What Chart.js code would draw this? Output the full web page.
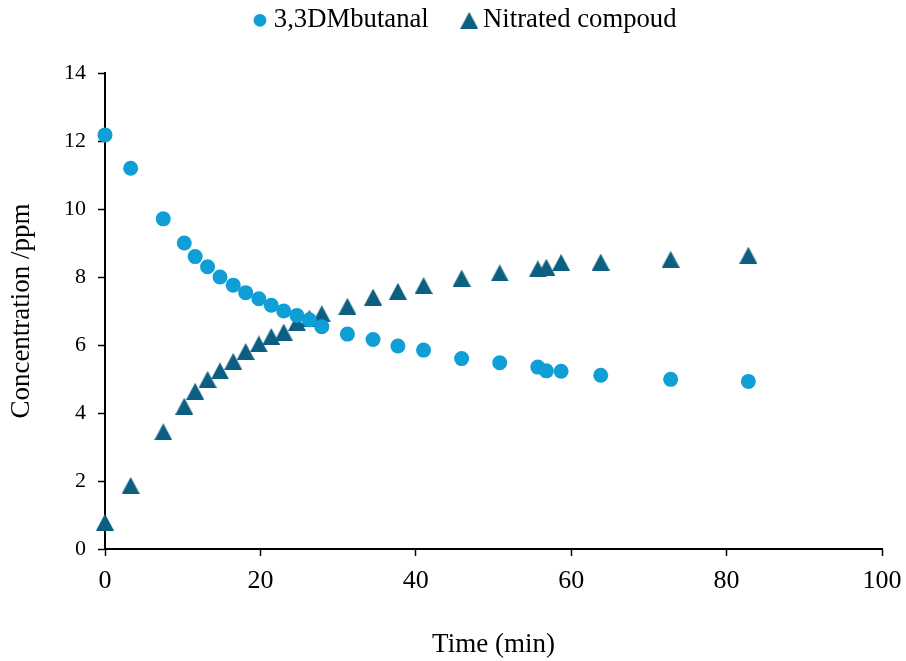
<!DOCTYPE html>
<html>
<head>
<meta charset="utf-8">
<title>Concentration vs time</title>
<style>
  html, body { margin: 0; padding: 0; background: #ffffff; }
  #wrap { width: 906px; height: 661px; }
</style>
<script src="https://cdn.jsdelivr.net/npm/chart.js@4/dist/chart.umd.min.js"></script>
</head>
<body>
<div id="wrap"><canvas id="chart" width="906" height="661"></canvas></div>
<script>
// Sampling times (min), shared by both series
const timeMin = [0, 3.3, 7.5, 10.2, 11.6, 13.2, 14.8, 16.5, 18.1, 19.8, 21.4, 23.0, 24.7, 26.3,
  27.9, 31.2, 34.5, 37.7, 41.0, 45.9, 50.8, 55.7, 56.8, 58.7, 63.8, 72.8, 82.8];

// 3,3-dimethylbutanal concentration (ppm)
const butanalPpm = [12.18, 11.2, 9.71, 9.0, 8.6, 8.3, 8.0, 7.76, 7.54, 7.36, 7.17, 7.0, 6.87, 6.74,
  6.54, 6.32, 6.16, 5.97, 5.85, 5.6, 5.48, 5.35, 5.24, 5.23, 5.11, 4.99, 4.93];

// Nitrated product concentration (ppm)
const nitratedPpm = [0.79, 1.87, 3.45, 4.2, 4.64, 4.99, 5.24, 5.52, 5.81, 6.03, 6.25, 6.38, 6.66, 6.79,
  6.92, 7.14, 7.41, 7.58, 7.75, 7.97, 8.12, 8.24, 8.29, 8.43, 8.44, 8.52, 8.64];

const seriesNames = ['3,3DMbutanal', 'Nitrated compoud'];
const xTickValues = [0, 20, 40, 60, 80, 100];
const yTickValues = [0, 2, 4, 6, 8, 10, 12, 14];

const SERIF = '"Liberation Serif", "Times New Roman", serif';
const BLUE = '#0F9ED5';
const TEAL = '#0D5F81';

// Solid triangle marker, centred on its bounding box
function makeTriangle(w, h, color) {
  const c = document.createElement('canvas');
  c.width = w; c.height = h;
  const g = c.getContext('2d');
  g.fillStyle = color;
  g.beginPath();
  g.moveTo(w / 2, 0);
  g.lineTo(w, h);
  g.lineTo(0, h);
  g.closePath();
  g.fill();
  return c;
}
const triangle = makeTriangle(18, 17, TEAL);

const toPoints = (xs, ys) => xs.map((x, i) => ({ x: x, y: ys[i] }));

// Fixed legend band: known height, and a horizontal span that starts at x = 54
const legendBand = {
  id: 'legendBand',
  afterInit(chart) {
    const lg = chart.legend;
    if (!lg) return;
    const fit = lg.fit;
    lg.fit = function () {
      fit.call(this);
      this.height = 106;
    };
  },
  afterLayout(chart) {
    const lg = chart.legend;
    if (!lg) return;
    lg.left = 54;
    lg.width = lg.right - lg.left;
  }
};

new Chart(document.getElementById('chart'), {
  type: 'scatter',
  data: {
    datasets: [
      {
        label: seriesNames[0],
        data: toPoints(timeMin, butanalPpm),
        pointStyle: 'circle',
        pointRadius: 7.5,
        pointHoverRadius: 7.5,
        backgroundColor: BLUE,
        borderColor: BLUE,
        borderWidth: 0,
        clip: false
      },
      {
        label: seriesNames[1],
        data: toPoints(timeMin, nitratedPpm),
        pointStyle: triangle,
        pointRadius: 9,
        pointHoverRadius: 9,
        backgroundColor: TEAL,
        borderColor: TEAL,
        borderWidth: 0,
        clip: false
      }
    ]
  },
  options: {
    responsive: false,
    devicePixelRatio: 1,
    animation: false,
    layout: { padding: { top: -33, right: 24, bottom: 0, left: 0 } },
    plugins: {
      tooltip: { enabled: false },
      legend: {
        position: 'top',
        align: 'center',
        labels: {
          usePointStyle: true,
          boxWidth: 1,
          boxHeight: 9,
          padding: 40,
          color: '#000000',
          font: { family: SERIF, size: 26.7 }
        }
      }
    },
    scales: {
      x: {
        type: 'linear',
        min: 0,
        max: 100,
        afterBuildTicks(scale) { scale.ticks = xTickValues.map(v => ({ value: v })); },
        afterFit(scale) {
          scale.height = 112;
          scale.paddingLeft = 0;
          scale.paddingRight = 0;
        },
        ticks: { color: '#000000', padding: 10, maxRotation: 0, font: { family: SERIF, size: 26 } },
        grid: { drawOnChartArea: false, drawTicks: true, tickLength: 7, tickWidth: 1.5, tickColor: '#000000' },
        border: { display: true, color: '#000000', width: 2 },
        title: {
          display: true,
          text: 'Time (min)',
          color: '#000000',
          font: { family: SERIF, size: 27 },
          padding: { top: 0, bottom: 0 }
        }
      },
      y: {
        type: 'linear',
        min: 0,
        max: 14,
        afterBuildTicks(scale) { scale.ticks = yTickValues.map(v => ({ value: v })); },
        afterFit(scale) { scale.width = 105; },
        ticks: { color: '#000000', padding: 12, font: { family: SERIF, size: 22 } },
        grid: { drawOnChartArea: false, drawTicks: true, tickLength: 7, tickWidth: 1.5, tickColor: '#000000' },
        border: { display: true, color: '#000000', width: 2 },
        title: {
          display: true,
          text: 'Concentration /ppm',
          color: '#000000',
          font: { family: SERIF, size: 27 },
          padding: { top: 6, bottom: 0 }
        }
      }
    }
  },
  plugins: [legendBand]
});
</script>
</body>
</html>
